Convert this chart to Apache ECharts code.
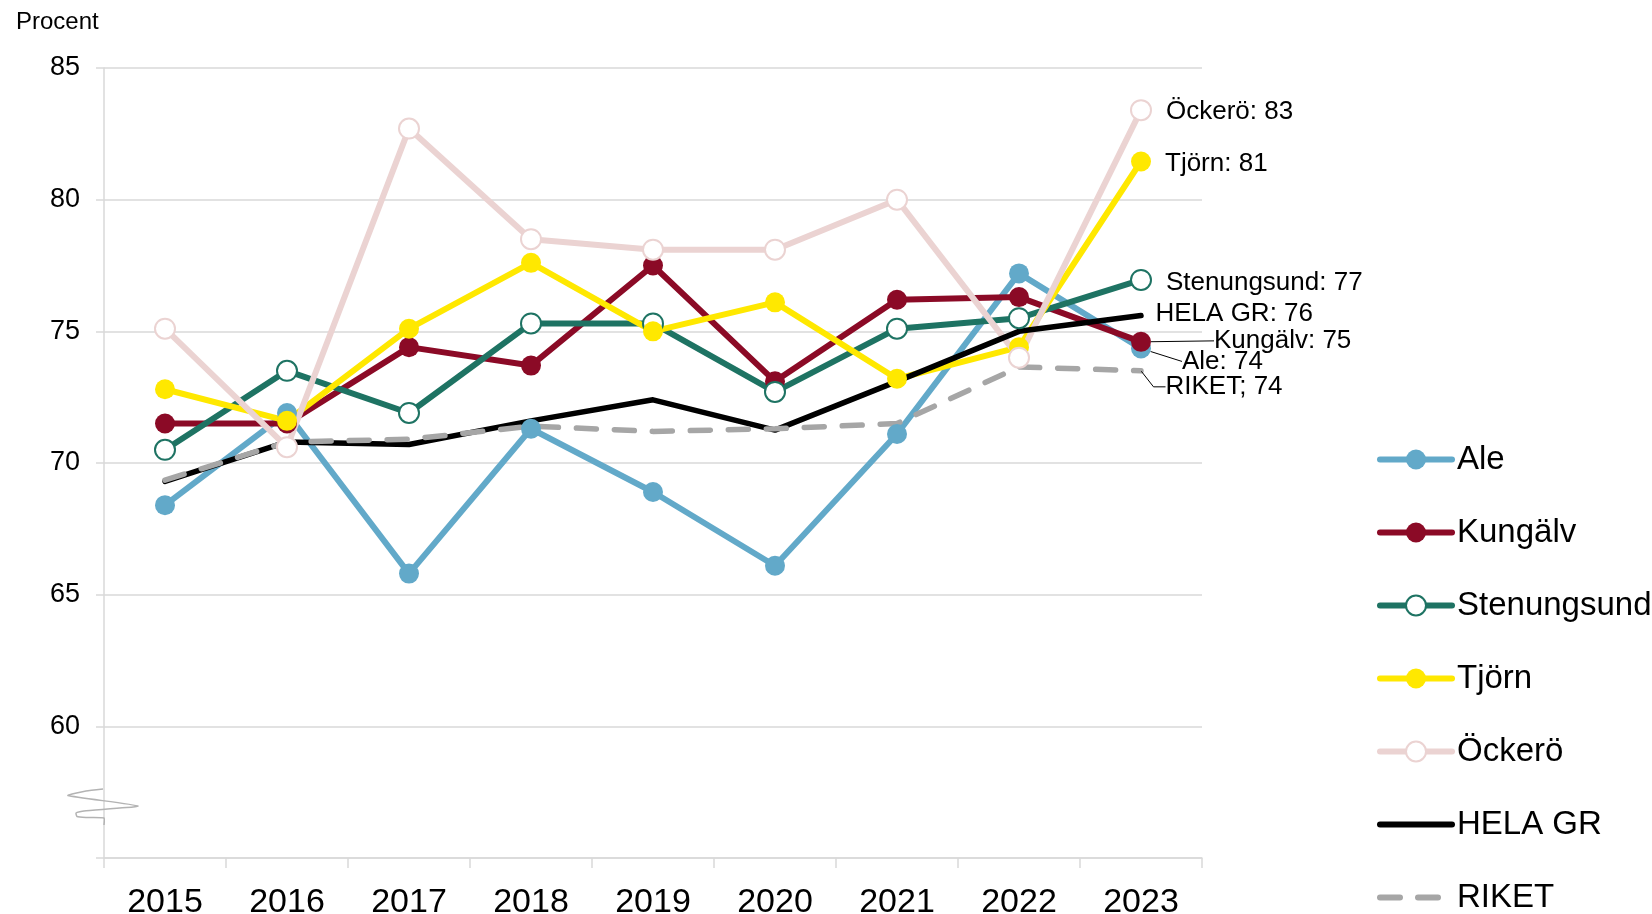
<!DOCTYPE html>
<html>
<head>
<meta charset="utf-8">
<script src="https://cdn.jsdelivr.net/npm/echarts@6/dist/echarts.min.js"></script>
<style>
  html, body { margin: 0; padding: 0; background: #fff; }
  #main { width: 1652px; height: 914px; }
</style>
</head>
<body>
<div id="main"></div>
<script>
// år på x-axeln
let years = ['2015', '2016', '2017', '2018', '2019', '2020', '2021', '2022', '2023'];

// andel i procent per kommun
let ale         = [68.4, 71.9, 65.8, 71.3, 68.9, 66.1, 71.1, 77.2, 74.35];
let kungalv     = [71.5, 71.5, 74.4, 73.7, 77.5, 73.1, 76.2, 76.3, 74.6];
let stenungsund = [70.5, 73.5, 71.9, 75.3, 75.3, 72.7, 75.1, 75.5, 76.95];
let tjorn       = [72.8, 71.6, 75.1, 77.6, 75.0, 76.1, 73.2, 74.4, 81.45];
let ockero      = [75.1, 70.6, 82.7, 78.5, 78.1, 78.1, 80.0, 74.0, 83.4];
let helaGR      = [69.3, 70.8, 70.7, 71.6, 72.4, 71.25, 73.1, 75.0, 75.6];
let riket       = [69.35, 70.8, 70.9, 71.4, 71.2, 71.3, 71.5, 73.65, 73.5];

let yTicks = [55, 60, 65, 70, 75, 80, 85];

let font = 'Liberation Sans, Arial, sans-serif';

let myChart = echarts.init(document.getElementById('main'));

// sista punkten får etikett "Namn: värde"
function lastLabeled(values, label, extra) {
	return values.map(function (v, i) {
		if (i !== values.length - 1) return v;
		return Object.assign({ value: v, label: label }, extra || {});
	});
}

function endLabel(sep, offset) {
	return {
		show: true,
		position: 'right',
		distance: 14,
		offset: offset || [0, 2],
		color: '#000',
		fontFamily: font,
		fontSize: 26,
		formatter: function (p) {
			return p.seriesName + sep + ' ' + Math.round(p.value);
		}
	};
}

let leader = { show: true, lineStyle: { color: '#000', width: 1 } };

function lineSeries(name, values, color, symbol, label, more) {
	return Object.assign({
		name: name,
		type: 'line',
		data: lastLabeled(values, label),
		symbol: symbol,
		symbolSize: 20,
		showSymbol: true,
		color: color,
		itemStyle: { color: color },
		lineStyle: { color: color, width: 6, cap: 'round', join: 'round' },
		emphasis: { disabled: true }
	}, more || {});
}

let option = {
	animation: false,
	backgroundColor: '#fff',
	title: {
		text: 'Procent',
		left: 16,
		top: 10,
		padding: 0,
		textStyle: { color: '#000', fontFamily: font, fontSize: 24, fontWeight: 'normal' }
	},
	grid: { left: 104, right: 450, top: 68, bottom: 56, outerBoundsMode: 'none' },
	legend: {
		orient: 'vertical',
		left: 1377,
		top: 443,
		height: 471,
		padding: 0,
		itemWidth: 72,
		itemHeight: 25,
		itemGap: 40,
		lineStyle: { width: 6 },
		textStyle: { color: '#000', fontFamily: font, fontSize: 33 },
		data: [
			'Ale', 'Kungälv', 'Stenungsund', 'Tjörn', 'Öckerö',
			{ name: 'HELA GR', itemStyle: { opacity: 0 } },
			{ name: 'RIKET', itemStyle: { opacity: 0 } }
		]
	},
	xAxis: {
		type: 'category',
		data: years,
		boundaryGap: true,
		axisLine: { lineStyle: { color: '#d9d9d9', width: 1.5 } },
		axisTick: { show: true, length: 10, lineStyle: { color: '#d9d9d9', width: 1.5 } },
		axisLabel: { color: '#000', fontFamily: font, fontSize: 34, margin: 28 }
	},
	yAxis: {
		type: 'value',
		min: yTicks[0],
		max: yTicks[yTicks.length - 1],
		interval: 5,
		axisLine: { show: true, lineStyle: { color: '#d9d9d9', width: 1.5 } },
		axisTick: { show: true, length: 8, lineStyle: { color: '#d9d9d9', width: 1.5 } },
		splitLine: { lineStyle: { color: '#d9d9d9', width: 1.5 } },
		axisLabel: {
			color: '#000', fontFamily: font, fontSize: 27, margin: 24,
			formatter: function (v) { return v === yTicks[0] ? '' : v; }
		}
	},
	// axelbrytning
	graphic: [{
		type: 'polyline',
		silent: true,
		shape: {
			points: [[103, 789], [86, 791], [68, 795.5], [138, 806], [84, 811], [76, 813], [77, 816.5], [86, 817.5], [104, 818], [104, 825]],
			smooth: 0.15
		},
		style: { stroke: '#b3b3b3', lineWidth: 1.5, fill: null },
		z: 100
	}],
	series: [
		lineSeries('Ale', ale, '#62a9c9', 'circle', endLabel(':'), {
			labelLayout: { dx: 17, dy: 13 },
			labelLine: leader
		}),
		lineSeries('Kungälv', kungalv, '#8b0a26', 'circle', endLabel(':'), {
			labelLayout: { dx: 49, dy: -1 },
			labelLine: leader
		}),
		lineSeries('Stenungsund', stenungsund, '#1e7363', 'emptyCircle', endLabel(':', [0, 3])),
		lineSeries('Tjörn', tjorn, '#ffe800', 'circle', endLabel(':')),
		lineSeries('Öckerö', ockero, '#ebd3d2', 'emptyCircle', endLabel(':')),
		{
			name: 'HELA GR',
			type: 'line',
			symbol: 'none',
			color: '#000',
			lineStyle: { color: '#000', width: 5.5, cap: 'round', join: 'round' },
			emphasis: { disabled: true },
			data: lastLabeled(helaGR, endLabel(':', [0, -2]), { symbol: 'circle', symbolSize: 1 })
		},
		{
			name: 'RIKET',
			type: 'line',
			symbol: 'none',
			color: '#a6a6a6',
			lineStyle: { color: '#a6a6a6', width: 5.5, type: [20, 18], cap: 'round' },
			emphasis: { disabled: true },
			labelLayout: { dx: 10, dy: 16 },
			labelLine: { show: true, length2: 12, lineStyle: { color: '#000', width: 1 } },
			data: lastLabeled(riket, endLabel(';'), { symbol: 'circle', symbolSize: 1, itemStyle: { color: '#a6a6a6' } })
		}
	]
};

myChart.setOption(option);
</script>
</body>
</html>
